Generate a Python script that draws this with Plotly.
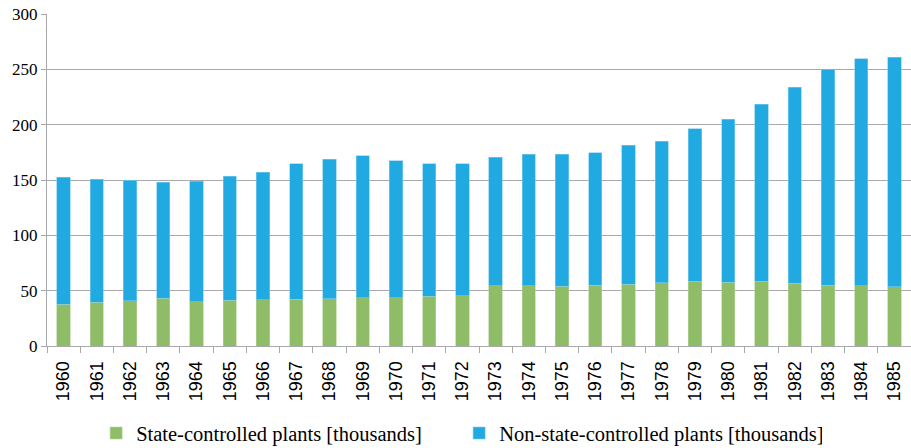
import plotly.graph_objects as go

# anni
years = [str(y) for y in range(1960, 1986)]

# totali (migliaia)
totals = [152.7, 150.9, 149.7, 147.9, 149.1, 153.6, 157.2, 164.5, 168.7, 171.7,
          167.2, 164.8, 164.8, 170.5, 173.2, 173.2, 174.7, 181.3, 185.2, 196.1,
          205.1, 218.4, 233.7, 250.3, 259.7, 260.9]

# impianti statali (migliaia)
state = [37.9, 39.5, 40.7, 43.1, 40.1, 41.3, 41.6, 42.2, 42.8, 43.4,
         43.7, 44.9, 45.5, 54.5, 54.5, 53.9, 55.1, 56.0, 57.2, 58.7,
         57.8, 58.7, 56.6, 55.1, 54.5, 53.6]

# impianti non statali = totale - statali
non_state = [round(t - s, 1) for t, s in zip(totals, state)]

green = "#8fbc66"
blue = "#21a9e1"

fig = go.Figure(
    data=[
        go.Bar(
            x=years,
            y=state,
            name="State-controlled plants [thousands]",
            marker_color=green,
            marker_line=dict(color="#b5d49b", width=0.6),
            width=0.4,
        ),
        go.Bar(
            x=years,
            y=non_state,
            name="Non-state-controlled plants [thousands]",
            marker_color=blue,
            marker_line=dict(color="#7fcdee", width=0.6),
            width=0.4,
        ),
    ]
)

fig.update_layout(
    barmode="stack",
    width=911,
    height=448,
    margin=dict(l=47, r=0, t=14, b=102, autoexpand=False),
    plot_bgcolor="white",
    paper_bgcolor="white",
    font=dict(family="Liberation Serif", size=17, color="black"),
    legend=dict(
        orientation="h",
        traceorder="normal",
        x=0.477,
        xanchor="center",
        yref="container",
        y=0.033,
        yanchor="middle",
        font=dict(family="Liberation Serif", size=20.5, color="black"),
        entrywidth=318,
        itemwidth=30,
    ),
    showlegend=True,
)

fig.update_yaxes(
    range=[0, 300],
    dtick=50,
    showgrid=True,
    gridcolor="#a9a9ad",
    gridwidth=1.2,
    showline=True,
    linecolor="#a9a9ad",
    linewidth=1.2,
    ticks="outside",
    ticklen=5,
    tickcolor="#a9a9ad",
    zeroline=False,
    automargin=False,
    tickfont=dict(family="Liberation Serif", size=17, color="black"),
)

fig.update_xaxes(
    showline=True,
    linecolor="#a9a9ad",
    linewidth=1.2,
    ticks="outside",
    tickson="boundaries",
    ticklen=6,
    tickcolor="#a9a9ad",
    tickangle=-90,
    ticklabelstandoff=7,
    automargin=False,
    tickfont=dict(family="Liberation Sans", size=18, color="black"),
)

# niente margine della pagina
fig.write_html(
    "out.html",
    config={"displayModeBar": False},
    post_script="document.body.style.margin='0';",
)
